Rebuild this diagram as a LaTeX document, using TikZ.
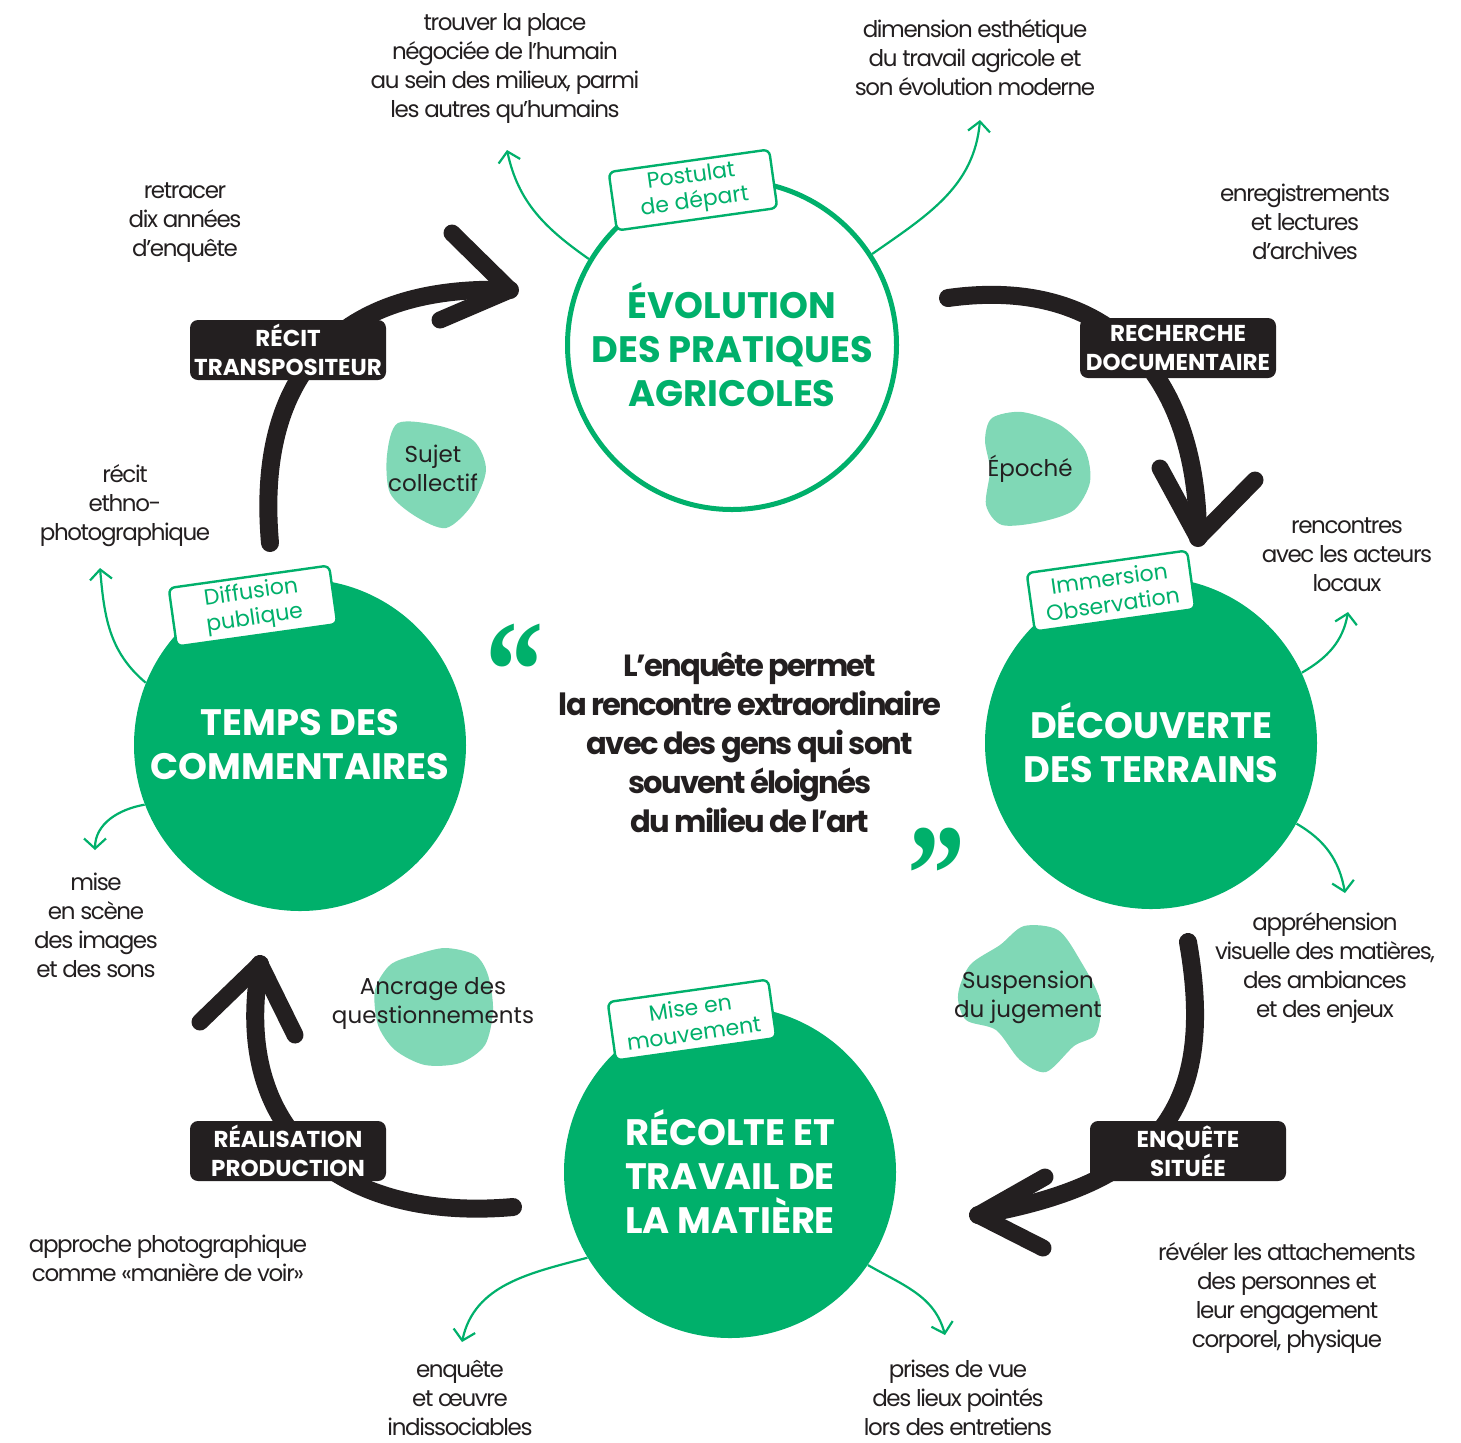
\documentclass[tikz,border=0pt]{standalone}
\usepackage{fontspec}
\setmainfont{Poppins}
\newfontfamily\serre[LetterSpace=-6]{Poppins}
\newfontfamily\guill{Liberation Serif}
\usetikzlibrary{arrows.meta,positioning}
\definecolor{vert}{HTML}{00B06B}
\definecolor{vertpale}{HTML}{80D8B6}
\definecolor{encre}{HTML}{231F20}
\tikzset{
  etape/.style={circle, inner sep=0pt, align=center, font=\fontsize{18.4}{22}\selectfont\bfseries},
  etapeplein/.style={etape, minimum size=166pt, fill=vert, text=white},
  etapevide/.style={etape, minimum size=164.5pt, draw=vert, line width=2.5pt, fill=white, text=vert},
  etiquette/.style={draw=vert, line width=1.2pt, fill=white, rounded corners=3pt, text=vert, align=center, font=\fontsize{11}{13}\selectfont, minimum width=81pt, minimum height=29.5pt, inner sep=0pt, rotate=8},
  bandeau/.style={fill=encre, rounded corners=4pt, text=white, align=center, font=\fontsize{11.5}{14.5}\selectfont\bfseries, minimum width=98pt, minimum height=30pt, inner sep=0pt},
  note/.style={text=encre, align=center, font=\serre\fontsize{11.5}{14.5}\selectfont},
  bulletexte/.style={text=encre, align=center, font=\fontsize{11.5}{14.5}\selectfont},
  citation/.style={text=encre, align=center, font=\serre\fontsize{15.3}{19.5}\selectfont\bfseries},
  guillemet/.style={text=vert, font=\guill\fontsize{71}{71}\selectfont\bfseries, inner sep=0pt, anchor=base},
  fleche/.style={draw=encre, line width=9pt, line cap=round, line join=round},
  pointe/.style={draw=encre, line width=8.5pt, line cap=round, line join=round},
  renvoi/.style={draw=vert, line width=1.1pt, -{Straight Barb[length=5pt,width=11pt]}},
}
\begin{document}
\begin{tikzpicture}[x=0.5pt,y=0.5pt]
\useasboundingbox (0,0) rectangle (1461,-1442);

\fill[vertpale] plot[smooth cycle] coordinates {(398,-423) (440,-426) (474,-441) (486,-470) (472,-505) (446,-528) (415,-516) (390,-493) (387,-455)};
\fill[vertpale] plot[smooth cycle] coordinates {(992,-418) (1022,-412) (1060,-425) (1085,-450) (1090,-482) (1074,-510) (1040,-522) (1002,-525) (986,-505) (990,-470) (985,-440)};
\fill[vertpale] plot[smooth cycle] coordinates {(1024,-926) (1058,-930) (1080,-960) (1100,-1000) (1096,-1034) (1074,-1046) (1046,-1072) (1020,-1060) (996,-1030) (966,-1020) (958,-995) (970,-965) (1000,-945)};
\fill[vertpale] plot[smooth cycle] coordinates {(415,-955) (445,-948) (475,-955) (488,-975) (493,-1010) (485,-1045) (460,-1063) (425,-1065) (395,-1050) (378,-1025) (375,-990) (390,-965)};

\node[etapevide] (evol) at (732,-345) {ÉVOLUTION\\DES PRATIQUES\\AGRICOLES};
\node[etapeplein] (decouv) at (1151,-743) {DÉCOUVERTE\\DES TERRAINS};
\node[etapeplein] (recolte) at (730,-1172) {RÉCOLTE ET\\TRAVAIL DE\\LA MATIÈRE};
\node[etapeplein] (temps) at (300,-745) {TEMPS DES\\COMMENTAIRES};

\node[etiquette] (postulat) at (693,-190) {Postulat\\de départ};
\node[etiquette] (immersion) at (1111,-591) {Immersion\\Observation};
\node[etiquette] (mise) at (692,-1020) {Mise en\\mouvement};
\node[etiquette] (diffusion) at (253,-606) {Diffusion\\publique};

\node[note] (place) at (505,-68) {trouver la place\\négociée de l’humain\\au sein des milieux, parmi\\les autres qu’humains};
\node[note] (esthe) at (975,-58) {dimension esthétique\\du travail agricole et\\son évolution moderne};
\node[note] (retracer) at (185,-223) {retracer\\dix années\\d’enquête};
\node[note] (archives) at (1305,-222) {enregistrements\\et lectures\\d’archives};
\node[note] (acteurs) at (1347,-555) {rencontres\\avec les acteurs\\locaux};
\node[note] (matieres) at (1325,-968) {appréhension\\visuelle des matières,\\des ambiances\\et des enjeux};
\node[note] (attach) at (1287,-1298) {révéler les attachements\\des personnes et\\leur engagement\\corporel, physique};
\node[note] (prises) at (958,-1398) {prises de vue\\des lieux pointés\\lors des entretiens};
\node[note] (oeuvre) at (460,-1398) {enquête\\et œuvre\\indissociables};
\node[note] (approche) at (168,-1258) {approche photographique\\comme «manière de voir»};
\node[note] (scene) at (96,-925) {mise\\en scène\\des images\\et des sons};
\node[note] (ethno) at (125,-506) {récit\\ethno-\\photographique};

\node[bulletexte] (sujet) at (433,-468) {Sujet\\collectif};
\node[bulletexte] (epoche) at (1030,-469) {Époché};
\node[bulletexte] (suspension) at (1028,-997) {Suspension\\du jugement};
\node[bulletexte] (ancrage) at (433,-1003) {Ancrage des\\questionnements};

\node[citation] (phrase) at (750,-742) {L’enquête permet\\la rencontre extraordinaire\\avec des gens qui sont\\souvent éloignés\\du milieu de l’art};
\node[guillemet] (ouvrant) at (515,-718) {\scalebox{0.82}[1]{“}};
\node[guillemet] (fermant) at (937,-922) {\scalebox{0.82}[1]{”}};

\coordinate (r1) at (507,-150);
\coordinate (r2) at (980,-120);
\coordinate (r3) at (1348,-612);
\coordinate (r4) at (1345,-893);
\coordinate (r5) at (462,-1342);
\coordinate (r6) at (945,-1335);
\coordinate (r7) at (100,-568);
\coordinate (r8) at (95,-850);
\draw[renvoi] (evol.149) to[out=145,in=-78] (r1);
\draw[renvoi] (evol.33) to[out=35,in=-95] (r2);
\draw[renvoi] (decouv.25) to[out=30,in=-100] (r3);
\draw[renvoi] (decouv.-29) to[out=-30,in=100] (r4);
\draw[renvoi] (recolte.211) to[out=195,in=78] (r5);
\draw[renvoi] (recolte.-34) to[out=-30,in=105] (r6);
\draw[renvoi] (temps.158) to[out=140,in=-85] (r7);
\draw[renvoi] (temps.201) to[out=190,in=90] (r8);

\coordinate (recit-a) at (270,-543);
\coordinate (recit-b) at (510,-290);
\coordinate (recit-g) at (452,-233);
\coordinate (recit-d) at (440,-320);
\coordinate (doc-a) at (948,-298);
\coordinate (doc-b) at (1198,-538);
\coordinate (doc-g) at (1160,-468);
\coordinate (doc-d) at (1255,-480);
\coordinate (situ-a) at (1188,-942);
\coordinate (situ-b) at (978,-1215);
\coordinate (situ-g) at (1045,-1177);
\coordinate (situ-d) at (1043,-1248);
\coordinate (real-a) at (513,-1207);
\coordinate (real-b) at (260,-964);
\coordinate (real-g) at (200,-1022);
\coordinate (real-d) at (295,-1035);
\draw[fleche] (recit-a) to[out=95,in=178,looseness=1.25] (recit-b);
\draw[pointe] (recit-g) -- (recit-b) -- (recit-d);
\draw[fleche] (doc-a) to[out=8,in=90,looseness=1.2] (doc-b);
\draw[pointe] (doc-g) -- (doc-b) -- (doc-d);
\draw[fleche] (situ-a) to[out=-80,in=10,looseness=1.3] (situ-b);
\draw[pointe] (situ-g) -- (situ-b) -- (situ-d);
\draw[fleche] (real-a) to[out=185,in=-100,looseness=1.25] (real-b);
\draw[pointe] (real-g) -- (real-b) -- (real-d);

\node[bandeau] (recit) at (288,-350) {RÉCIT\\TRANSPOSITEUR};
\node[bandeau] (recherche) at (1178,-348) {RECHERCHE\\DOCUMENTAIRE};
\node[bandeau] (enquete) at (1188,-1151) {ENQUÊTE\\SITUÉE};
\node[bandeau] (realisation) at (288,-1151) {RÉALISATION\\PRODUCTION};
\end{tikzpicture}
\end{document}
